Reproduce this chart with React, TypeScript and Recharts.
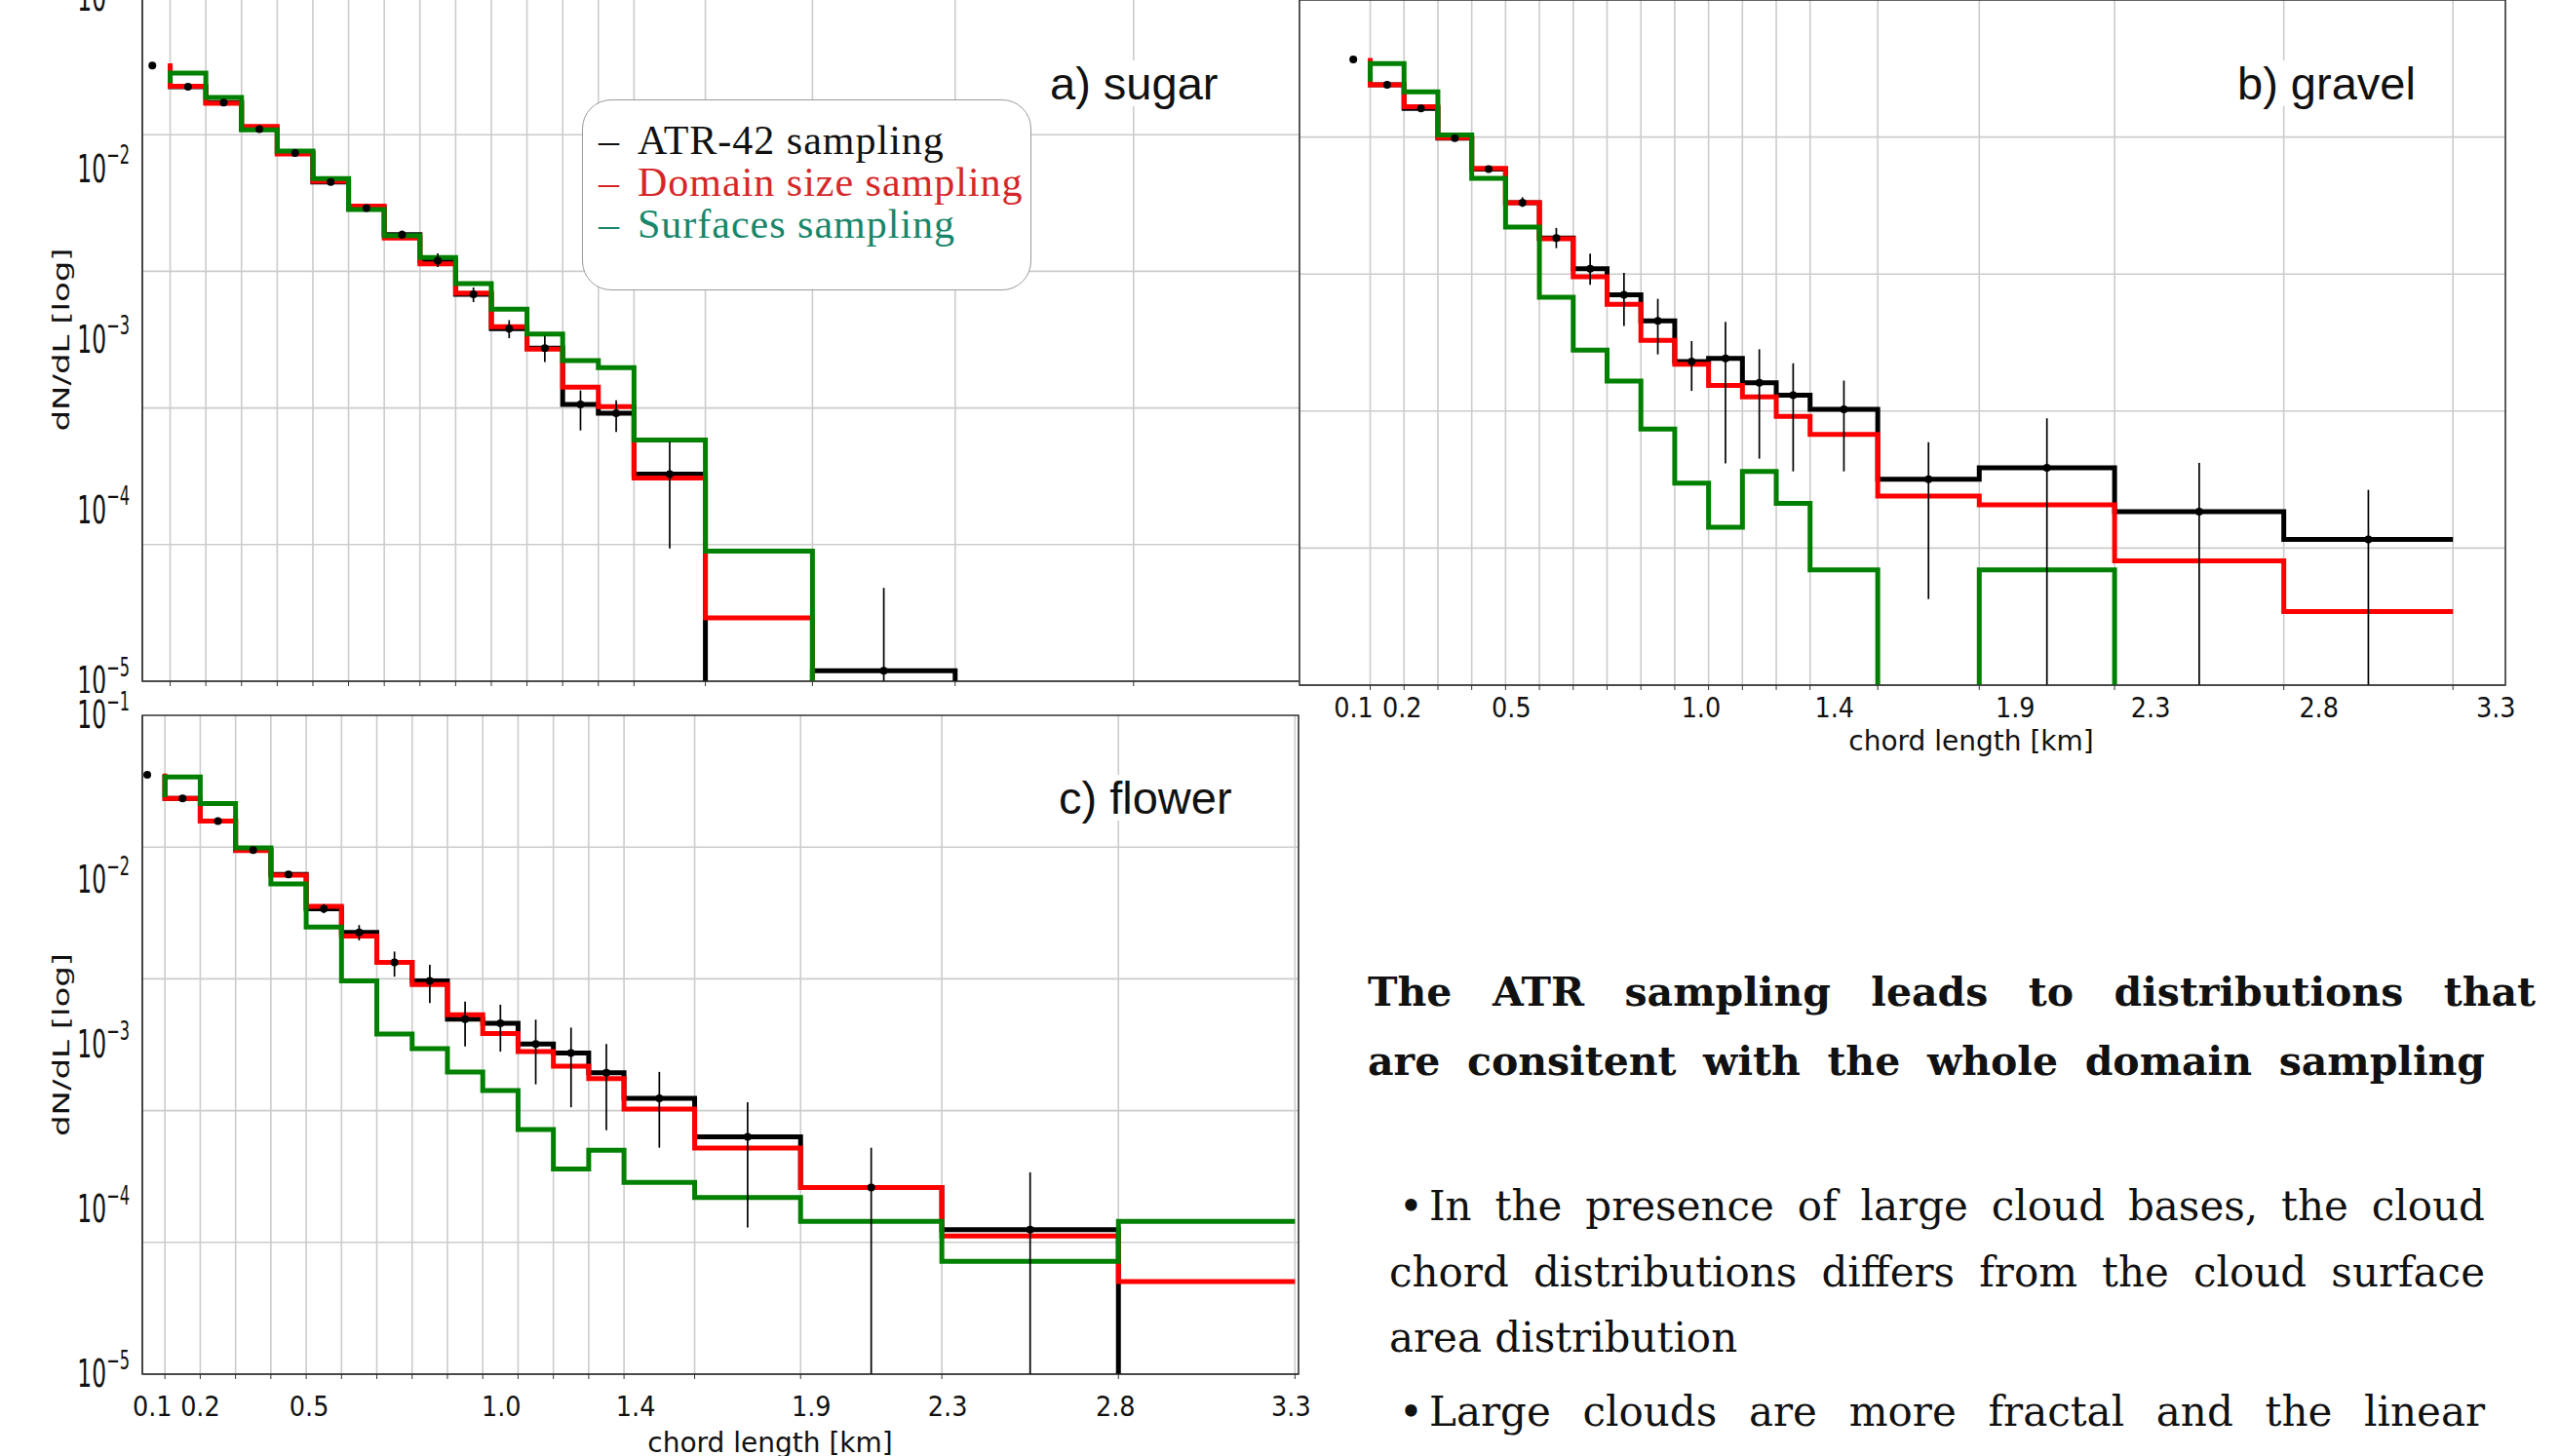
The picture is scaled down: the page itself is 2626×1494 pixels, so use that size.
import React from 'react';
import {
  ComposedChart,
  Line,
  Scatter,
  ErrorBar,
  XAxis,
  YAxis,
  CartesianGrid,
  ReferenceArea,
} from 'recharts';

// chord length bin edges [km]; every series starts with the 0-0.1 km bin, held at 0.1
const EDGES = [0.1, 0.2, 0.3, 0.4, 0.5, 0.6, 0.7, 0.8, 0.9, 1.0, 1.1, 1.2, 1.3, 1.4, 1.6, 1.9, 2.3, 2.8, 3.3];
// bin centres, where the ATR-42 points sit
const CENTERS = [0.05, 0.15, 0.25, 0.35, 0.45, 0.55, 0.65, 0.75, 0.85, 0.95, 1.05, 1.15, 1.25, 1.35, 1.5, 1.75, 2.1, 2.55, 3.05];
const X_LABELS = [0.1, 0.2, 0.5, 1.0, 1.4, 1.9, 2.3, 2.8, 3.3];
const DECADES = [1e-5, 1e-4, 1e-3, 1e-2, 1e-1];
const GRID_LEVELS = [1.585e-2, 2.512e-3, 3.981e-4, 6.31e-5];

const Y_MIN = 1e-5;
const Y_MAX = 1e-1;
const EMPTY = 1e-9; // no clouds in the bin, the step drops out through the bottom

// a) sugar
const SUGAR_ATR = [0.0402, 0.0303, 0.0244, 0.0171, 0.0124, 0.00838, 0.0059, 0.00412, 0.0029, 0.00184, 0.00116, 0.000891, 0.000417, 0.000371, 0.000163, EMPTY, 1.15e-5, EMPTY, EMPTY];
const SUGAR_DOMAIN = [0.0415, 0.0305, 0.0242, 0.0177, 0.0122, 0.00845, 0.00604, 0.00394, 0.00278, 0.00187, 0.00119, 0.000879, 0.000527, 0.000405, 0.000155, 2.35e-5, EMPTY, EMPTY, EMPTY];
const SUGAR_SURF = [0.0318, 0.0364, 0.0262, 0.0169, 0.0127, 0.00877, 0.00578, 0.00406, 0.00303, 0.00213, 0.00151, 0.00108, 0.000753, 0.000685, 0.000258, 5.77e-5, EMPTY, EMPTY, EMPTY];
const SUGAR_LOW = [0.0402, 0.0296, 0.0238, 0.0167, 0.012, 0.00802, 0.00565, 0.0039, 0.00266, 0.00166, 0.00102, 0.000738, 0.000294, 0.000288, 6.0e-5, EMPTY, Y_MIN, EMPTY, EMPTY];
const SUGAR_HIGH = [0.0402, 0.031, 0.025, 0.0176, 0.0128, 0.00877, 0.00617, 0.00435, 0.0032, 0.00202, 0.0013, 0.00105, 0.000504, 0.000442, 0.000252, EMPTY, 3.52e-5, EMPTY, EMPTY];

// b) gravel
const GRAVEL_ATR = [0.0449, 0.032, 0.0233, 0.0156, 0.0103, 0.00656, 0.00408, 0.0027, 0.0019, 0.00134, 0.000774, 0.000809, 0.000582, 0.000493, 0.000407, 0.000159, 0.000186, 0.000103, 7.1e-5];
const GRAVEL_DOMAIN = [0.0458, 0.032, 0.0238, 0.0157, 0.0104, 0.00656, 0.00404, 0.00242, 0.00167, 0.00103, 0.000746, 0.000562, 0.000482, 0.000371, 0.000291, 0.000127, 0.000113, 5.31e-5, 2.69e-5];
const GRAVEL_SURF = [0.0334, 0.0426, 0.0291, 0.0163, 0.00908, 0.00472, 0.00184, 0.000902, 0.000596, 0.000313, 0.000151, 8.36e-5, 0.000177, 0.000115, 4.71e-5, EMPTY, 4.71e-5, EMPTY, EMPTY];
const GRAVEL_LOW = [0.0449, 0.0313, 0.0228, 0.0152, 0.0099, 0.00619, 0.00356, 0.00217, 0.00125, 0.000853, 0.000522, 0.000197, 0.00021, 0.000177, 0.000177, 3.18e-5, Y_MIN, Y_MIN, Y_MIN];
const GRAVEL_HIGH = [0.0449, 0.0327, 0.0238, 0.016, 0.0107, 0.00706, 0.00467, 0.00331, 0.00255, 0.0018, 0.00102, 0.00132, 0.000914, 0.000757, 0.0006, 0.000262, 0.000361, 0.000198, 0.000138];

// c) flower
const FLOWER_ATR = [0.0435, 0.0313, 0.0228, 0.0152, 0.0108, 0.0067, 0.0048, 0.00316, 0.00244, 0.00143, 0.00135, 0.00101, 0.000891, 0.000675, 0.000472, 0.000276, 0.000136, 7.55e-5, EMPTY];
const FLOWER_DOMAIN = [0.0443, 0.0313, 0.0228, 0.0151, 0.0107, 0.00692, 0.00457, 0.00316, 0.00232, 0.00152, 0.00117, 0.000908, 0.000741, 0.000622, 0.000407, 0.000236, 0.000136, 6.89e-5, 3.65e-5];
const FLOWER_SURF = [0.0318, 0.0422, 0.0291, 0.0157, 0.00946, 0.00518, 0.00244, 0.00116, 0.000946, 0.000682, 0.000527, 0.000306, 0.000176, 0.000229, 0.000146, 0.000118, 8.45e-5, 4.84e-5, 8.45e-5];
const FLOWER_LOW = [0.0435, 0.0305, 0.022, 0.0148, 0.0103, 0.0063, 0.0043, 0.00259, 0.00179, 0.000977, 0.000908, 0.000575, 0.000417, 0.000303, 0.000237, 7.78e-5, Y_MIN, Y_MIN, EMPTY];
const FLOWER_HIGH = [0.0435, 0.0319, 0.0234, 0.0157, 0.0112, 0.00713, 0.00533, 0.00368, 0.00306, 0.00183, 0.00175, 0.00142, 0.00127, 0.00101, 0.000684, 0.000447, 0.000237, 0.000168, EMPTY];

const ATR_COLOR = '#000000';
const DOMAIN_COLOR = '#ff0000';
const SURF_COLOR = '#008000';

const steps = (values: number[]) => EDGES.map((x, i) => ({ x, y: values[i] }));

const points = (values: number[], low: number[], high: number[]) =>
  CENTERS.map((x, i) => ({ x, y: values[i], err: [values[i] - low[i], high[i] - values[i]] })).filter(
    (p) => p.y > EMPTY
  );

function DecadeTick({ x, y, payload }: any) {
  const exponent = Math.round(Math.log10(payload.value));
  return (
    <g transform={`translate(${x},${y}) scale(0.6,1)`}>
      <text textAnchor="end" dominantBaseline="central" fontFamily="DejaVu Sans" fontSize={39} fill="#111">
        <tspan>10</tspan>
        <tspan fontSize={27} dy={-15}>{`\u2212${-exponent}`}</tspan>
      </text>
    </g>
  );
}

// km labels sit a little off their tick marks, by a per-panel amount
function KmTick({ x, y, payload, shifts }: any) {
  const idx = X_LABELS.indexOf(payload.value);
  if (!shifts || idx < 0) return null;
  return (
    <g transform={`translate(${x + shifts[idx]},${y}) scale(0.88,1)`}>
      <text dy="0.71em" textAnchor="middle" fontFamily="DejaVu Sans" fontSize={29} fill="#111">
        {payload.value.toFixed(1)}
      </text>
    </g>
  );
}

function YTitle({ viewBox }: any) {
  const cy = viewBox.y + viewBox.height / 2;
  return (
    <text
      transform={`translate(63,${cy}) scale(0.7,1) rotate(-90)`}
      textAnchor="middle"
      dominantBaseline="central"
      fontFamily="DejaVu Sans"
      fontSize={34}
      fill="#111"
    >
      dN/dL [log]
    </text>
  );
}

function XTitle({ viewBox, at, dy }: any) {
  return (
    <text
      x={viewBox.x + viewBox.width * at}
      y={viewBox.y + dy}
      textAnchor="middle"
      dominantBaseline="central"
      fontFamily="DejaVu Sans"
      fontSize={28}
      fill="#111"
    >
      chord length [km]
    </text>
  );
}

type PanelProps = {
  left: number;
  top: number;
  plotWidth: number;
  plotHeight: number;
  margin: { top: number; right: number; bottom: number; left: number };
  yAxisWidth: number;
  xAxisHeight: number;
  xDomain: [number, number];
  atr: number[];
  domain: number[];
  surfaces: number[];
  atrLow: number[];
  atrHigh: number[];
  yLabels: boolean;
  labelShifts?: number[];
  xTickMargin: number;
  xTitle?: { at: number; dy: number };
};

function Panel(p: PanelProps) {
  const width = p.margin.left + p.yAxisWidth + p.plotWidth + p.margin.right;
  const height = p.margin.top + p.plotHeight + p.xAxisHeight + p.margin.bottom;
  const ticks = EDGES.filter((e) => e >= p.xDomain[0] && e <= p.xDomain[1]);
  const lineProps = {
    dataKey: 'y',
    type: 'stepBefore' as const,
    strokeWidth: 5,
    dot: false,
    activeDot: false,
    isAnimationActive: false,
  };

  return (
    <div style={{ position: 'absolute', left: p.left, top: p.top }}>
      <ComposedChart width={width} height={height} margin={p.margin}>
        <CartesianGrid stroke="#cccccc" strokeWidth={1.6} horizontalValues={GRID_LEVELS} />
        <XAxis
          type="number"
          dataKey="x"
          domain={p.xDomain}
          allowDataOverflow
          ticks={ticks}
          interval={0}
          height={p.xAxisHeight}
          tickSize={5}
          tickMargin={p.xTickMargin}
          stroke="#333"
          tick={(props: any) => <KmTick {...props} shifts={p.labelShifts} />}
          label={p.xTitle ? (props: any) => <XTitle {...props} at={p.xTitle!.at} dy={p.xTitle!.dy} /> : undefined}
        />
        <YAxis
          type="number"
          scale="log"
          domain={[Y_MIN, Y_MAX]}
          allowDataOverflow
          ticks={DECADES}
          interval={0}
          hide={!p.yLabels}
          width={p.yAxisWidth}
          tickLine={false}
          tickSize={0}
          tickMargin={13}
          stroke="#333"
          tick={(props: any) => <DecadeTick {...props} />}
          label={p.yLabels ? (props: any) => <YTitle {...props} /> : undefined}
        />
        <Line {...lineProps} data={steps(p.atr)} stroke={ATR_COLOR} name="ATR-42 sampling" />
        <Line {...lineProps} data={steps(p.domain)} stroke={DOMAIN_COLOR} name="Domain size sampling" />
        <Line {...lineProps} data={steps(p.surfaces)} stroke={SURF_COLOR} name="Surfaces sampling" />
        <Scatter
          data={points(p.atr, p.atrLow, p.atrHigh)}
          dataKey="y"
          isAnimationActive={false}
          shape={(s: any) => <circle cx={s.cx} cy={s.cy} r={4} fill={ATR_COLOR} />}
        >
          <ErrorBar dataKey="err" direction="y" width={0} stroke={ATR_COLOR} strokeWidth={1.7} isAnimationActive={false} />
        </Scatter>
        <ReferenceArea
          x1={p.xDomain[0]}
          x2={p.xDomain[1]}
          y1={Y_MIN}
          y2={Y_MAX}
          fill="none"
          stroke="#333"
          strokeWidth={1.5}
          ifOverflow="visible"
        />
      </ComposedChart>
    </div>
  );
}

const panelTitle: React.CSSProperties = {
  position: 'absolute',
  fontFamily: '"Liberation Sans", Arial, sans-serif',
  fontSize: 47,
  lineHeight: '47px',
  background: '#fff',
  color: '#111',
  whiteSpace: 'nowrap',
};

const legendRow: React.CSSProperties = { height: 43, whiteSpace: 'nowrap' };
const legendDash: React.CSSProperties = { display: 'inline-block', width: 40 };

const bodyLine: React.CSSProperties = {
  position: 'absolute',
  fontFamily: '"DejaVu Serif", serif',
  fontSize: 42,
  lineHeight: '60px',
  color: '#111',
};
const justified: React.CSSProperties = { textAlign: 'justify', textAlignLast: 'justify' };

export default function App() {
  return (
    <div
      style={{
        position: 'absolute',
        left: 0,
        top: 0,
        width: 2626,
        height: 1494,
        overflow: 'hidden',
        background: '#fff',
      }}
    >
      <Panel
        left={0}
        top={-2}
        plotWidth={1187}
        plotHeight={701}
        margin={{ top: 0, right: 0, bottom: 0, left: 0 }}
        yAxisWidth={146}
        xAxisHeight={12}
        xDomain={[0.022, 3.265]}
        atr={SUGAR_ATR}
        domain={SUGAR_DOMAIN}
        surfaces={SUGAR_SURF}
        atrLow={SUGAR_LOW}
        atrHigh={SUGAR_HIGH}
        yLabels
        xTickMargin={4}
      />
      <Panel
        left={1329}
        top={-2}
        plotWidth={1237}
        plotHeight={703}
        margin={{ top: 2, right: 40, bottom: 0, left: 4 }}
        yAxisWidth={0}
        xAxisHeight={84}
        xDomain={[-0.109, 3.455]}
        atr={GRAVEL_ATR}
        domain={GRAVEL_DOMAIN}
        surfaces={GRAVEL_SURF}
        atrLow={GRAVEL_LOW}
        atrHigh={GRAVEL_HIGH}
        yLabels={false}
        labelShifts={[-17, -2, 6, 27, 25, 37, 37, 36, 44]}
        xTickMargin={7}
        xTitle={{ at: 0.557, dy: 57 }}
      />
      <Panel
        left={0}
        top={708}
        plotWidth={1186}
        plotHeight={676}
        margin={{ top: 26, right: 30, bottom: 0, left: 0 }}
        yAxisWidth={146}
        xAxisHeight={84}
        xDomain={[0.036, 3.31]}
        atr={FLOWER_ATR}
        domain={FLOWER_DOMAIN}
        surfaces={FLOWER_SURF}
        atrLow={FLOWER_LOW}
        atrHigh={FLOWER_HIGH}
        yLabels
        labelShifts={[-13, 0, 3, 19, 12, 11, 6, -3, -4]}
        xTickMargin={17}
        xTitle={{ at: 0.543, dy: 70 }}
      />

      <div style={{ ...panelTitle, left: 1077, top: 62 }}>a) sugar</div>
      <div style={{ ...panelTitle, left: 2295, top: 62 }}>b) gravel</div>
      <div style={{ ...panelTitle, left: 1086, top: 795 }}>c) flower</div>

      <div
        style={{
          position: 'absolute',
          left: 597,
          top: 102,
          width: 461,
          height: 196,
          boxSizing: 'border-box',
          border: '1.5px solid #9a9a9a',
          borderRadius: 30,
          background: '#fff',
          padding: '20px 0 0 16px',
          fontFamily: '"Liberation Serif", serif',
          fontSize: 42,
          letterSpacing: 1,
          lineHeight: '43px',
        }}
      >
        <div style={{ ...legendRow, color: '#111' }}>
          <span style={legendDash}>–</span>ATR-42 sampling
        </div>
        <div style={{ ...legendRow, color: '#d62728' }}>
          <span style={legendDash}>–</span>Domain size sampling
        </div>
        <div style={{ ...legendRow, color: '#17866a' }}>
          <span style={legendDash}>–</span>Surfaces sampling
        </div>
      </div>

      <div style={{ ...bodyLine, ...justified, fontWeight: 'bold', fontSize: 41, left: 1403, width: 1198, top: 988 }}>
        The ATR sampling leads to distributions that
      </div>
      <div style={{ ...bodyLine, ...justified, fontWeight: 'bold', fontSize: 41, left: 1403, width: 1146, top: 1059 }}>
        are consitent with the whole domain sampling
      </div>

      <div style={{ ...bodyLine, ...justified, left: 1435, width: 1114, top: 1208 }}>
        <span style={{ display: 'inline-block', width: 31 }}>•</span>In the presence of large cloud bases, the cloud
      </div>
      <div style={{ ...bodyLine, ...justified, left: 1425, width: 1124, top: 1276 }}>
        chord distributions differs from the cloud surface
      </div>
      <div style={{ ...bodyLine, left: 1425, top: 1343 }}>area distribution</div>
      <div style={{ ...bodyLine, ...justified, left: 1435, width: 1114, top: 1419 }}>
        <span style={{ display: 'inline-block', width: 31 }}>•</span>Large clouds are more fractal and the linear
      </div>
    </div>
  );
}
